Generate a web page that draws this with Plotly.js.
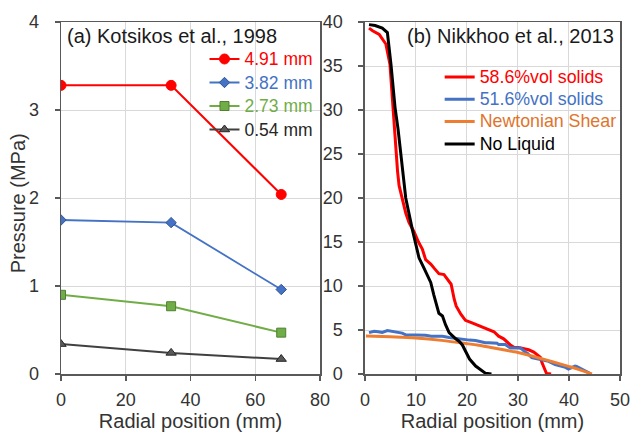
<!DOCTYPE html>
<html>
<head>
<meta charset="utf-8">
<script src="https://cdn.plot.ly/plotly-3.0.1.min.js"></script>
<style>html,body{margin:0;padding:0;background:#fff;}#chart{width:633px;height:432px;}</style>
</head>
<body>
<div id="chart"></div>
<script>
// ---- Panel (a): Kotsikos et al., 1998 ----
const posA = [0, 34, 68];
const namesA = ['4.91 mm', '3.82 mm', '2.73 mm', '0.54 mm'];
const p491 = [3.28, 3.28, 2.04];
const p382 = [1.75, 1.72, 0.96];
const p273 = [0.90, 0.77, 0.47];
const p054 = [0.34, 0.24, 0.17];

// ---- Panel (b): Nikkhoo et al., 2013 ----
const namesB = ['58.6%vol solids', '51.6%vol solids', 'Newtonian Shear', 'No Liquid'];
const redX = [0.8, 1.5, 2.8, 4.1, 4.9, 5.5, 5.7, 6.05, 6.4, 6.7, 7.35, 8.0, 8.65, 9.6, 10.5, 11.25, 11.9, 12.9, 13.6, 14.5, 15.5, 16.2, 16.9, 17.5, 17.9, 18.8, 19.7, 21.0, 22.3, 23.6, 25.3, 26.2, 27.2, 28.5, 29.3, 30.1, 31.4, 32.1, 33.1, 33.7, 34.4, 34.7, 35.2, 35.6, 36.5];
const redY = [39.3, 39.0, 38.6, 37.5, 35.2, 30.3, 27.8, 25.2, 23.0, 21.4, 19.8, 18.3, 17.2, 16.2, 15.0, 14.2, 13.0, 12.5, 12.0, 11.4, 11.3, 10.8, 10.2, 8.5, 7.7, 6.8, 6.1, 5.8, 5.5, 5.2, 4.8, 4.3, 4.0, 3.3, 3.0, 3.0, 2.8, 2.75, 2.5, 2.2, 1.9, 1.3, 0.7, 0.05, 0.0];
const blueX = [0.8, 1.8, 2.6, 3.4, 4.4, 5.5, 6.5, 7.3, 8.0, 8.65, 10.0, 11.9, 13.0, 13.9, 15.2, 16.5, 18.4, 19.1, 20.5, 21.7, 22.3, 23.6, 24.3, 25.9, 26.2, 27.5, 28.5, 30.1, 30.5, 31.4, 31.8, 32.7, 34.0, 35.0, 36.0, 37.3, 38.5, 39.3, 39.9, 40.5, 41.2, 41.5, 42.3, 43.2, 44.0];
const blueY = [4.7, 4.85, 4.8, 4.72, 4.93, 4.8, 4.72, 4.65, 4.45, 4.45, 4.4, 4.4, 4.3, 4.3, 4.28, 4.15, 4.0, 3.9, 3.85, 3.8, 3.7, 3.55, 3.55, 3.5, 3.35, 3.34, 2.96, 3.0, 2.96, 2.5, 2.39, 1.85, 1.7, 1.5, 1.44, 1.06, 0.9, 0.75, 0.57, 0.7, 0.9, 0.87, 0.6, 0.3, 0.1];
const orangeX = [0.2, 5, 10, 15, 20, 22.3, 25, 28.8, 30, 35.3, 39.9, 42, 44.5];
const orangeY = [4.32, 4.22, 4.08, 3.82, 3.45, 3.26, 2.98, 2.57, 2.45, 1.63, 0.87, 0.5, 0.0];
const blackX = [0.8, 2.0, 3.4, 4.4, 5.1, 5.9, 6.5, 7.0, 8.0, 9.3, 10.0, 10.6, 11.6, 12.2, 12.9, 13.5, 14.2, 14.5, 15.2, 15.8, 16.5, 17.3, 17.8, 18.5, 19.1, 19.8, 20.5, 21.7, 23.0, 23.6, 24.8];
const blackY = [39.7, 39.6, 39.3, 38.8, 35.2, 30.3, 27.8, 25.2, 20.0, 16.4, 14.8, 13.2, 12.0, 11.3, 10.4, 9.0, 7.5, 6.9, 6.6, 5.6, 4.7, 4.2, 4.0, 3.7, 3.3, 2.5, 1.7, 0.9, 0.3, 0.1, 0.0];

const textA = ['#FF0000', '#4472C4', '#70AD47', '#262626'];
const textB = ['#FF0000', '#4472C4', '#E0742C', '#000000'];
const lbl = (n, c, fs) => '<span style="color:' + c + ';font-size:' + fs + 'px">' + n + '</span>';

const traces = [
  {x: posA, y: p491, xaxis: 'x', yaxis: 'y', mode: 'lines+markers', name: lbl(namesA[0], textA[0], 17.5), legend: 'legend',
   line: {color: '#FF0000', width: 2}, marker: {symbol: 'circle', size: 10, color: '#FF0000', line: {color: '#FF0000', width: 1}}},
  {x: posA, y: p382, xaxis: 'x', yaxis: 'y', mode: 'lines+markers', name: lbl(namesA[1], textA[1], 17.5), legend: 'legend',
   line: {color: '#4472C4', width: 1.8}, marker: {symbol: 'diamond', size: 8, color: '#4472C4', line: {color: '#2F5597', width: 1}}},
  {x: posA, y: p273, xaxis: 'x', yaxis: 'y', mode: 'lines+markers', name: lbl(namesA[2], textA[2], 17.5), legend: 'legend',
   line: {color: '#70AD47', width: 2}, marker: {symbol: 'square', size: 9, color: '#70AD47', line: {color: '#507E32', width: 1}}},
  {x: posA, y: p054, xaxis: 'x', yaxis: 'y', mode: 'lines+markers', name: lbl(namesA[3], textA[3], 17.5), legend: 'legend',
   line: {color: '#404040', width: 2}, marker: {symbol: 'triangle-up', size: 9, color: '#595959', line: {color: '#262626', width: 1}}},
  {x: redX, y: redY, xaxis: 'x2', yaxis: 'y2', mode: 'lines', name: lbl(namesB[0], textB[0], 17.8), legend: 'legend2',
   line: {color: '#FF0000', width: 3}},
  {x: blueX, y: blueY, xaxis: 'x2', yaxis: 'y2', mode: 'lines', name: lbl(namesB[1], textB[1], 17.8), legend: 'legend2',
   line: {color: '#4472C4', width: 3}},
  {x: orangeX, y: orangeY, xaxis: 'x2', yaxis: 'y2', mode: 'lines', name: lbl(namesB[2], textB[2], 17.8), legend: 'legend2',
   line: {color: '#ED7D31', width: 3, shape: 'spline'}},
  {x: blackX, y: blackY, xaxis: 'x2', yaxis: 'y2', mode: 'lines', name: lbl(namesB[3], textB[3], 17.8), legend: 'legend2',
   line: {color: '#000000', width: 3}}
];

const FONT = 'Liberation Sans, Arial, sans-serif';
const axCommon = {
  showline: true, mirror: true, linecolor: '#595959', linewidth: 1.5,
  ticks: 'outside', ticklen: 5, tickwidth: 1.5, tickcolor: '#595959',
  showgrid: true, gridcolor: '#D9D9D9', gridwidth: 1, zeroline: false,
  tickfont: {family: FONT, size: 18, color: '#333333'},
  fixedrange: true
};
const titleFont = {family: FONT, size: 20, color: '#333333'};

const layout = {
  width: 633, height: 432,
  margin: {l: 61, r: 11, t: 22, b: 58},
  paper_bgcolor: '#ffffff', plot_bgcolor: '#ffffff',
  font: {family: FONT, color: '#333333'},
  xaxis: Object.assign({}, axCommon, {domain: [0, 0.4635], range: [0, 80], dtick: 20, anchor: 'y',
    ticklabelstandoff: 4, title: {text: 'Radial position (mm)', font: titleFont, standoff: 6}}),
  yaxis: Object.assign({}, axCommon, {domain: [0, 1], range: [0, 4], dtick: 1, anchor: 'x',
    ticklabelstandoff: 12}),
  xaxis2: Object.assign({}, axCommon, {domain: [0.5437, 1], range: [0, 50], dtick: 10, anchor: 'y2',
    ticklabelstandoff: 4, title: {text: 'Radial position (mm)', font: titleFont, standoff: 6}}),
  yaxis2: Object.assign({}, axCommon, {domain: [0, 1], range: [0, 40], dtick: 5, anchor: 'x2',
    ticklabelstandoff: 12}),
  legend: {x: 0.2567, y: 0.9425, xanchor: 'left', yanchor: 'top', bgcolor: 'rgba(0,0,0,0)',
    font: {family: FONT, size: 15.77}, tracegroupgap: 0},
  legend2: {x: 0.6774, y: 0.8896, xanchor: 'left', yanchor: 'top', bgcolor: 'rgba(0,0,0,0)',
    font: {family: FONT, size: 14.85}, tracegroupgap: 0},
  annotations: [
    {text: '(a) Kotsikos et al., 1998', xref: 'paper', yref: 'paper', x: 0.0071, y: 0.96,
     xanchor: 'left', yanchor: 'middle', showarrow: false,
     font: {family: FONT, size: 20, color: '#1a1a1a'}},
    {text: '(b) Nikkhoo et al., 2013', xref: 'paper', yref: 'paper', x: 0.992, y: 0.96,
     xanchor: 'right', yanchor: 'middle', showarrow: false,
     font: {family: FONT, size: 20, color: '#1a1a1a'}},
    {text: 'Pressure (MPa)', xref: 'paper', yref: 'paper', x: -0.0755, y: 0.4844,
     xanchor: 'center', yanchor: 'middle', textangle: -90, showarrow: false,
     font: titleFont}
  ],
  showlegend: true
};

Plotly.newPlot('chart', traces, layout, {displayModeBar: false, staticPlot: true});
</script>
</body>
</html>
